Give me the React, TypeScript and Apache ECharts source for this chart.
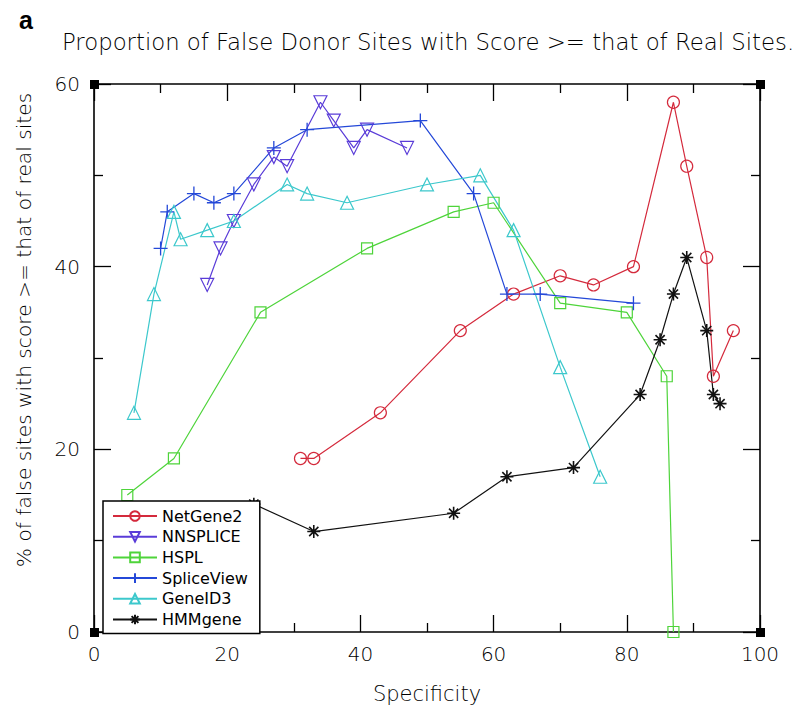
import React, { useEffect, useRef } from "react";
import * as echarts from "echarts";

// ---- data ----
const netgene2X = [31, 33, 43, 55, 63, 70, 75, 81, 87, 89, 92, 93, 96];
const netgene2Y = [19, 19, 24, 33, 37, 39, 38, 40, 58, 51, 41, 28, 33];

const nnspliceX = [17, 19, 21, 24, 27, 29, 34, 36, 39, 41, 47];
const nnspliceY = [38, 42, 45, 49, 52, 51, 58, 56, 53, 55, 53];

const hsplX = [5, 12, 25, 41, 54, 60, 70, 80, 86, 87];
const hsplY = [15, 19, 35, 42, 46, 47, 36, 35, 28, 0];

const spliceViewX = [10, 11, 15, 18, 21, 27, 32, 49, 57, 62, 67, 81];
const spliceViewY = [42, 46, 48, 47, 48, 53, 55, 56, 48, 37, 37, 36];

const geneid3X = [6, 9, 12, 13, 17, 21, 29, 32, 38, 50, 58, 63, 70, 76];
const geneid3Y = [24, 37, 46, 43, 44, 45, 49, 48, 47, 49, 50, 44, 29, 17];

const hmmgeneX = [24, 33, 54, 62, 72, 82, 85, 87, 89, 92, 93, 94];
const hmmgeneY = [14, 11, 13, 17, 18, 26, 32, 37, 41, 33, 26, 25];

const seriesNames = ["NetGene2", "NNSPLICE", "HSPL", "SpliceView", "GeneID3", "HMMgene"];
const xTicks = [0, 20, 40, 60, 80, 100];
const yTicks = [0, 20, 40, 60];

const TITLE = "Proportion of False Donor Sites with Score >= that of Real Sites.";
const X_NAME = "Specificity";
const Y_NAME = "% of false sites with score >= that of real sites";

const FONT = '"DejaVu Sans", "Noto Sans", sans-serif';

const zip = (xs: number[], ys: number[]) => xs.map((x, i) => [x, ys[i]]);

const PLUS = "path://M0,6L12,6M6,0L6,12";
const STAR = "path://M6,0L6,12M0,6L12,6M1.76,1.76L10.24,10.24M10.24,1.76L1.76,10.24";

export default function App() {
  const ref = useRef<HTMLDivElement>(null);

  useEffect(() => {
    if (!ref.current) return;
    const chart = echarts.init(ref.current, undefined, { renderer: "svg" });

    const mk = (
      name: string,
      xs: number[],
      ys: number[],
      color: string,
      symbol: string,
      size: number,
      rotate = 0,
      bw = 1.2
    ) => ({
      name,
      type: "line",
      data: zip(xs, ys),
      symbol,
      symbolSize: size,
      symbolRotate: rotate,
      showAllSymbol: true,
      lineStyle: { color, width: 1.2 },
      itemStyle: { color: "rgba(255,255,255,0)", borderColor: color, borderWidth: bw },
      emphasis: { disabled: true },
      z: 3,
    });

    const axisCommon = {
      axisLine: { show: true, onZero: false, lineStyle: { color: "#000", width: 1.6 } },
      axisTick: { show: true, inside: true, length: 17, lineStyle: { color: "#000", width: 1.3 } },
      minorTick: { show: true, splitNumber: 2, length: 9, lineStyle: { color: "#000", width: 1.3 } },
      splitLine: { show: false },
    };

    const corner = (x: number, y: number) => ({
      type: "rect",
      shape: { x: x - 4, y: y - 4, width: 9, height: 9 },
      style: { fill: "#000" },
      z: 10,
    });

    chart.setOption({
      animation: false,
      backgroundColor: "#fff",
      title: [
        {
          text: "a",
          left: 14,
          top: 2,
          textStyle: { fontFamily: '"Liberation Sans", sans-serif', fontWeight: "bold", fontSize: 25, color: "#000" },
        },
        {
          text: TITLE,
          left: 57,
          top: 25,
          textStyle: { fontFamily: FONT, fontWeight: 200, fontSize: 22.8, color: "#000" },
        },
      ],
      grid: { left: 94, right: 40, top: 84, bottom: 89, containLabel: false },
      xAxis: [
        {
          type: "value",
          min: xTicks[0],
          max: xTicks[xTicks.length - 1],
          interval: 20,
          position: "bottom",
          ...axisCommon,
          axisLabel: { margin: 12, fontSize: 20, color: "#000", fontFamily: FONT, fontWeight: 200 },
          name: X_NAME,
          nameLocation: "middle",
          nameGap: 51,
          nameTextStyle: { fontSize: 21, color: "#000", fontFamily: FONT, fontWeight: 200 },
        },
        {
          type: "value",
          min: xTicks[0],
          max: xTicks[xTicks.length - 1],
          interval: 20,
          position: "top",
          ...axisCommon,
          axisLabel: { show: false },
        },
      ],
      yAxis: [
        {
          type: "value",
          min: yTicks[0],
          max: yTicks[yTicks.length - 1],
          interval: 20,
          position: "left",
          ...axisCommon,
          axisLabel: { margin: 14, fontSize: 20, color: "#000", fontFamily: FONT, fontWeight: 200 },
          name: Y_NAME,
          nameLocation: "middle",
          nameRotate: 90,
          nameGap: 60,
          nameTextStyle: {
            fontSize: 20.2,
            color: "#000",
            fontFamily: FONT,
            fontWeight: 200,
            padding: [0, 0, 0, 56],
          },
        },
        {
          type: "value",
          min: yTicks[0],
          max: yTicks[yTicks.length - 1],
          interval: 20,
          position: "right",
          ...axisCommon,
          axisLabel: { show: false },
        },
      ],
      legend: {
        data: seriesNames,
        orient: "vertical",
        left: 103,
        top: 501,
        itemWidth: 44,
        itemHeight: 12,
        itemGap: 2.7,
        padding: [6, 12, 5, 9],
        backgroundColor: "#fff",
        borderColor: "#000",
        borderWidth: 1.5,
        textStyle: { fontSize: 16, lineHeight: 18, color: "#000", fontFamily: FONT },
        z: 8,
      },
      graphic: [corner(94, 84), corner(760, 84), corner(94, 632), corner(760, 632)],
      series: [
        mk(seriesNames[0], netgene2X, netgene2Y, "#d42a3c", "circle", 12),
        mk(seriesNames[1], nnspliceX, nnspliceY, "#5a3cd8", "triangle", 13, 180),
        mk(seriesNames[2], hsplX, hsplY, "#4ed43a", "rect", 11),
        mk(seriesNames[3], spliceViewX, spliceViewY, "#2448d8", PLUS, 14, 0, 1.3),
        mk(seriesNames[4], geneid3X, geneid3Y, "#3cc8cc", "triangle", 13),
        mk(seriesNames[5], hmmgeneX, hmmgeneY, "#111111", STAR, 13, 0, 1.6),
      ],
    });

    return () => chart.dispose();
  }, []);

  return (
    <div
      ref={ref}
      style={{ position: "absolute", left: 0, top: 0, width: 800, height: 721 }}
    />
  );
}
